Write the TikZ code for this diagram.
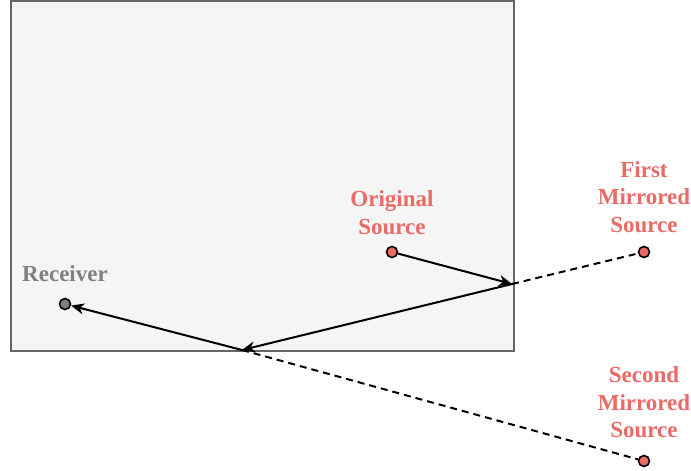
\documentclass[tikz,border=0pt]{standalone}
\usepackage{fontspec}
\setmainfont{Liberation Serif}
\usetikzlibrary{arrows.meta}
\definecolor{srcred}{HTML}{EA6B66}
\definecolor{rcvgray}{HTML}{808080}
\definecolor{roomfill}{HTML}{F5F5F5}
\definecolor{roomline}{HTML}{666666}
\begin{document}
\begin{tikzpicture}[x=1pt,y=-1pt,
  room/.style={draw=roomline,fill=roomfill,line width=2pt},
  pt/.style={circle,draw=black,line width=1.6pt,minimum size=11pt,inner sep=0pt},
  src/.style={pt,fill=srcred},
  rcv/.style={pt,fill=rcvgray},
  lbl/.style={font=\fontsize{23}{27.5}\selectfont\bfseries,align=center,anchor=base,inner sep=0pt},
  ray/.style={line width=2pt,-{Stealth[length=13pt,width=11pt,inset=4pt]}},
  virt/.style={line width=2pt,dashed,dash pattern=on 7pt off 5pt}]
\useasboundingbox (0,0) rectangle (691,471);
\draw[room] (11,1) rectangle (514,351);
\coordinate (w1) at (512,284);
\coordinate (w2) at (242,350);
\node[src] (s) at (392,252) {};
\node[src] (m1) at (644,252) {};
\node[src] (m2) at (644,461) {};
\node[rcv] (r) at (65,304) {};
\draw[virt] (w1) -- (m1);
\draw[virt] (w2) -- (m2);
\draw[ray] (s) -- (w1);
\draw[ray] (w1) -- (w2);
\draw[ray] (w2) -- (r);
\node[lbl,text=rcvgray] (tr) at (65,281) {Receiver};
\node[lbl,text=srcred] (ts) at (392,234) {Original\\Source};
\node[lbl,text=srcred] (tm1) at (644,232) {First\\Mirrored\\Source};
\node[lbl,text=srcred] (tm2) at (644,437.5) {Second\\Mirrored\\Source};
\end{tikzpicture}
\end{document}
